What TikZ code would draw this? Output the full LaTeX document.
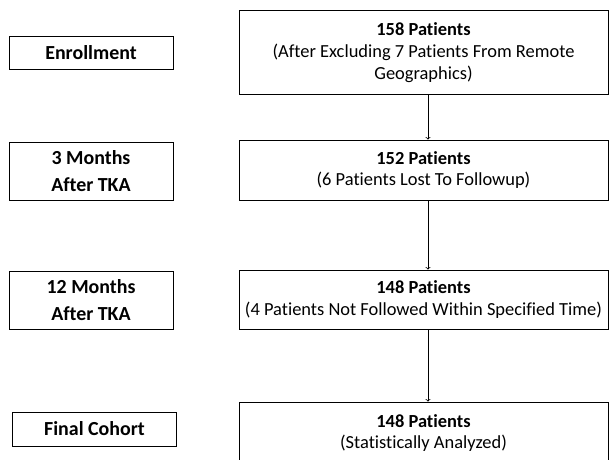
\documentclass[tikz,border=0pt]{standalone}
\usepackage{fontspec}
\setmainfont{Carlito}[Ligatures=NoCommon]
\begin{document}
\begin{tikzpicture}[x=1bp,y=-1bp,line width=.8bp,
 stage/.style={draw,align=center,inner sep=0pt,minimum width=164bp,font=\fontsize{20}{27}\selectfont\bfseries},
 count/.style={draw,align=center,inner sep=0pt,minimum width=369bp,font=\fontsize{18.5}{22}\selectfont}]
 \useasboundingbox (0,0) rectangle (609,460);
 % left column
 \node[stage,minimum height=33bp] (s1) at (91,52.5) {Enrollment};
 \node[stage,minimum height=58bp] (s2) at (91,171) {3 Months\\After TKA};
 \node[stage,minimum height=58bp] (s3) at (91,300) {12 Months\\After TKA};
 \node[stage,minimum height=34bp] (s4) at (94.5,429) {Final Cohort};
 % right column
 \node[count,minimum height=84bp] (p1) at (423.5,52.5) {\textbf{158 Patients}\\(After Excluding 7 Patients From Remote\\Geographics)};
 \node[count,minimum height=60bp] (p2) at (423.5,170) {\textbf{152 Patients}\\(6 Patients Lost To Followup)};
 \node[count,minimum height=59bp] (p3) at (423.5,299.5) {\textbf{148 Patients}\\(4 Patients Not Followed Within Specified Time)};
 \node[count,minimum height=62bp] (p4) at (423.5,433) {\textbf{148 Patients}\\(Statistically Analyzed)};
 \foreach \a/\b in {p1/p2,p2/p3,p3/p4}{\draw[->] ([xshift=4.5bp]\a.south) -- ([xshift=4.5bp]\b.north);}
\end{tikzpicture}
\end{document}
